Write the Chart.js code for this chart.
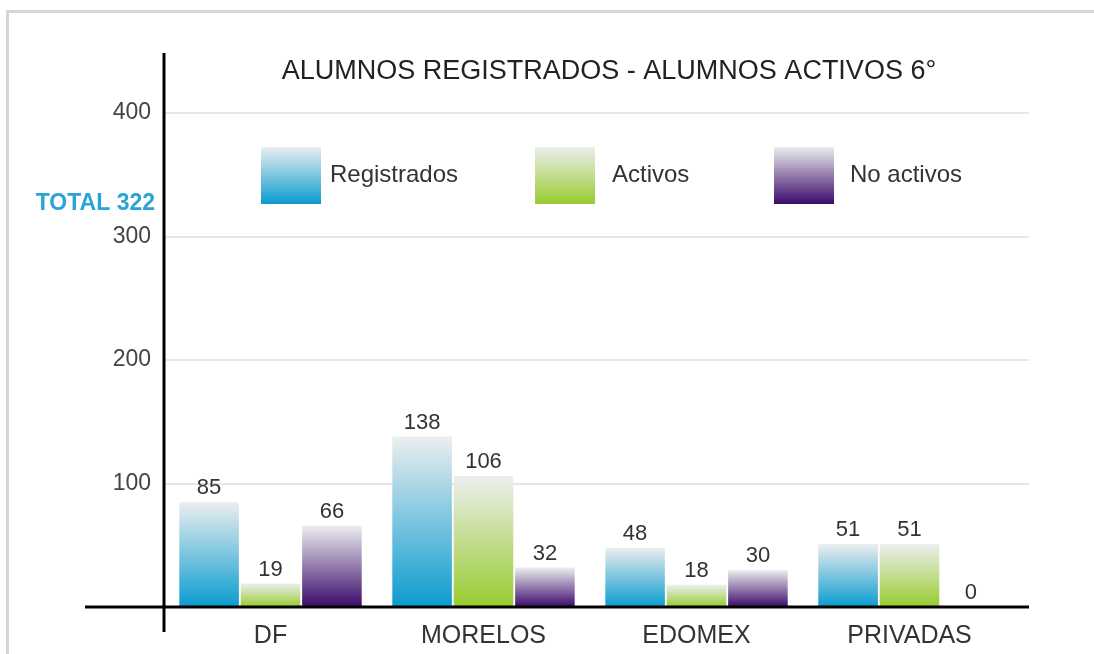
<html lang="es">
  <head>
    <meta charset="UTF-8" />
    <title>Alumnos registrados - activos 6°</title>
    <style>
      body { margin: 0; background: #fff; }
      #wrap { position: relative; width: 1094px; height: 654px; overflow: hidden; }
      #frame { position: absolute; left: 6px; top: 10px; right: 0; bottom: -5px;
               border-top: 3px solid #d5d5d5; border-left: 3px solid #d5d5d5; }
      #myChart { position: absolute; left: 0; top: 0; }
    </style>
  </head>
  <body>
    <div id="wrap">
      <div id="frame"></div>
      <canvas id="myChart" width="1094" height="654"></canvas>
    </div>
    <script src="https://cdn.jsdelivr.net/npm/chart.js@4.4.1/dist/chart.umd.min.js"></script>
    <script>
        var categories = ['DF', 'MORELOS', 'EDOMEX', 'PRIVADAS'];
        var registrados = [85, 138, 48, 51];
        var activos = [19, 106, 18, 51];
        var noActivos = [66, 32, 30, 0];
        var seriesNames = ['Registrados', 'Activos', 'No activos'];
        var yTicks = [0, 100, 200, 300, 400];
        var titleText = 'ALUMNOS REGISTRADOS - ALUMNOS ACTIVOS 6°';
        var totalText = 'TOTAL 322';

        var FONT = "'Liberation Sans', Arial, sans-serif";
        var topColor = '#eceeef';
        var baseColors = ['#0a9ccf', '#98cc2e', '#3b0a6b'];

        // gradient per bar: light at the top, full colour at the base
        function barGradient(i) {
            return function (ctx) {
                var chart = ctx.chart;
                if (!chart.chartArea || ctx.raw == null) return baseColors[i];
                var y = chart.scales.y;
                var top = y.getPixelForValue(ctx.raw);
                var base = y.getPixelForValue(0);
                if (base - top < 1) return baseColors[i];
                var g = chart.ctx.createLinearGradient(0, top, 0, base);
                g.addColorStop(0, topColor);
                g.addColorStop(1, baseColors[i]);
                return g;
            };
        }

        var decor = {
            id: 'decor',
            beforeDatasetsDraw: function (chart) {
                var c = chart.ctx, a = chart.chartArea, y = chart.scales.y;
                c.save();
                c.strokeStyle = '#e6e6e6';
                c.lineWidth = 2;
                yTicks.forEach(function (v) {
                    if (v === 0) return;
                    var py = Math.round(y.getPixelForValue(v));
                    c.beginPath();
                    c.moveTo(a.left, py);
                    c.lineTo(1029, py);
                    c.stroke();
                });
                c.restore();
            },
            afterDatasetsDraw: function (chart) {
                var c = chart.ctx, a = chart.chartArea;
                c.save();
                // value labels
                c.fillStyle = '#333';
                c.font = '22px ' + FONT;
                c.textAlign = 'center';
                c.textBaseline = 'bottom';
                chart.data.datasets.forEach(function (ds, i) {
                    var meta = chart.getDatasetMeta(i);
                    meta.data.forEach(function (bar, j) {
                        c.fillText(String(ds.data[j]), bar.x, bar.y - 3);
                    });
                });
                // axes crossing lines
                c.strokeStyle = '#000';
                c.lineWidth = 3;
                c.beginPath();
                c.moveTo(a.left, 53);
                c.lineTo(a.left, 632);
                c.moveTo(85, a.bottom);
                c.lineTo(1029, a.bottom);
                c.stroke();
                // title
                c.fillStyle = '#222';
                c.font = '27px ' + FONT;
                c.textBaseline = 'middle';
                c.fillText(titleText, 609, 72);
                // total
                c.fillStyle = '#2aa3d6';
                c.font = 'bold 23px ' + FONT;
                c.textAlign = 'right';
                c.fillText(totalText, 155, 204);
                // legend
                var boxX = [261, 535, 774];
                var textX = [330, 612, 850];
                c.textAlign = 'left';
                c.font = '24px ' + FONT;
                seriesNames.forEach(function (name, i) {
                    var g = c.createLinearGradient(0, 147, 0, 204);
                    g.addColorStop(0, topColor);
                    g.addColorStop(1, baseColors[i]);
                    c.fillStyle = g;
                    c.fillRect(boxX[i], 147, 60, 57);
                    c.fillStyle = '#333';
                    c.fillText(name, textX[i], 175);
                });
                c.restore();
            }
        };

        var ctx = document.getElementById('myChart').getContext('2d');
        var myBarChart = new Chart(ctx, {
            type: 'bar',
            data: {
                labels: categories,
                datasets: [registrados, activos, noActivos].map(function (d, i) {
                    return {
                        label: seriesNames[i],
                        data: d,
                        backgroundColor: barGradient(i),
                        borderWidth: 0,
                        categoryPercentage: 0.865,
                        barPercentage: 0.97
                    };
                })
            },
            options: {
                responsive: false,
                animation: false,
                layout: { padding: { left: 0, top: 113, right: 78, bottom: 0 } },
                plugins: {
                    legend: { display: false },
                    title: { display: false },
                    tooltip: { enabled: false }
                },
                scales: {
                    x: {
                        grid: { display: false },
                        border: { display: false },
                        ticks: { color: '#333', font: { family: FONT, size: 25 }, padding: 6 },
                        afterFit: function (s) { s.height = 47; }
                    },
                    y: {
                        min: 0,
                        max: 400,
                        grid: { display: false, drawTicks: false },
                        border: { display: false },
                        ticks: {
                            stepSize: 100,
                            color: '#444',
                            padding: 13,
                            font: { family: FONT, size: 23 },
                            callback: function (v) { return v === 0 ? '' : v; }
                        },
                        afterFit: function (s) { s.width = 164; }
                    }
                }
            },
            plugins: [decor]
        });
    </script>
  </body>
</html>
